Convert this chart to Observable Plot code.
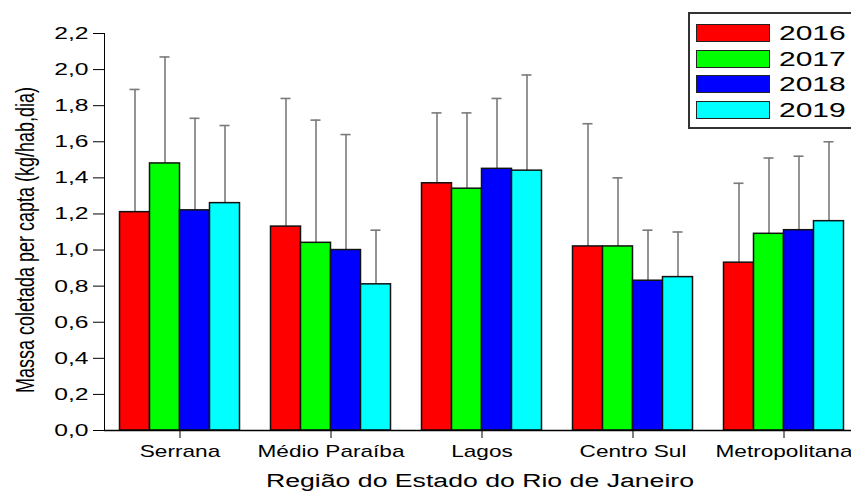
<!DOCTYPE html>
<html>
<head>
<meta charset="utf-8">
<script src="https://cdn.jsdelivr.net/npm/d3@7"></script>
<script src="https://cdn.jsdelivr.net/npm/@observablehq/plot@0.6"></script>
<style>
  html, body { margin: 0; padding: 0; background: #fff; overflow: hidden; }
  #wrap { position: relative; width: 851px; height: 492px; overflow: hidden; font-family: "Liberation Sans", Arial, sans-serif; }
  #wrap svg { position: absolute; left: 0; top: 0; overflow: hidden; }
  .ttl { position: absolute; white-space: nowrap; color: #000; font-size: 18px; }
  #legend { position: absolute; left: 688px; top: 12px; width: 190px; height: 117px; border: 2px solid #333; background: #fff; box-sizing: border-box; }
  .sw { position: absolute; left: 6px; width: 74px; height: 18px; border: 1.5px solid #222; box-sizing: border-box; }
  .lt { position: absolute; left: 89px; font-size: 20px; line-height: 20px; transform-origin: left center; transform: scaleX(1.5); }
</style>
</head>
<body>
<div id="wrap"></div>
<script>
const regions = ["Serrana", "Médio Paraíba", "Lagos", "Centro Sul", "Metropolitana"];
const years = ["2016", "2017", "2018", "2019"];
const colors = ["#ff0000", "#00ff00", "#0000ff", "#00ffff"];
const v2016 = [1.21, 1.13, 1.37, 1.02, 0.93];
const v2017 = [1.48, 1.04, 1.34, 1.02, 1.09];
const v2018 = [1.22, 1.00, 1.45, 0.83, 1.11];
const v2019 = [1.26, 0.81, 1.44, 0.85, 1.16];
const e2016 = [1.89, 1.84, 1.76, 1.70, 1.37];
const e2017 = [2.07, 1.72, 1.76, 1.40, 1.51];
const e2018 = [1.73, 1.64, 1.84, 1.11, 1.52];
const e2019 = [1.69, 1.11, 1.97, 1.10, 1.60];
const yTicks = [0, 0.2, 0.4, 0.6, 0.8, 1.0, 1.2, 1.4, 1.6, 1.8, 2.0, 2.2];

const values = [v2016, v2017, v2018, v2019];
const errs = [e2016, e2017, e2018, e2019];
const data = [];
regions.forEach((r, i) => years.forEach((y, j) => data.push({region: r, year: y, value: values[j][i], err: errs[j][i]})));

const fmt = d => d.toFixed(1).replace(".", ",");

const chart = Plot.plot({
  width: 851,
  height: 492,
  marginLeft: 104,
  marginRight: 0,
  marginTop: 33,
  marginBottom: 62,
  style: {fontFamily: "'Liberation Sans', Arial, sans-serif", fontSize: "17px", color: "#000", background: "#fff", overflow: "hidden"},
  fx: {domain: regions, range: [104, 859], padding: 0, round: false, label: null, tickSize: 8, tickPadding: 6},
  x: {domain: years, paddingInner: 0, paddingOuter: 0.5167, round: false, axis: null},
  y: {domain: [0, 2.2], ticks: yTicks, tickFormat: fmt, tickSize: 11, tickPadding: 5, label: null, line: true},
  color: {domain: years, range: colors},
  marks: [
    Plot.ruleX(data, {fx: "region", x: "year", y1: "value", y2: "err", stroke: "#7a7a7a", strokeWidth: 1.6}),
    Plot.tickY(data, {fx: "region", x: "year", y: "err", stroke: "#7a7a7a", strokeWidth: 1.6, insetLeft: 10, insetRight: 10}),
    Plot.barY(data, {fx: "region", x: "year", y: "value", fill: "year", stroke: "#111", strokeWidth: 1.5, insetLeft: 0, insetRight: 0}),
    Plot.ruleY([0], {stroke: "#000", strokeWidth: 1.5})
  ]
});

const wrap = document.getElementById("wrap");
wrap.appendChild(chart);

// emulate the horizontally stretched lettering of the reference
chart.querySelectorAll("text").forEach(t => {
  const s = t.textContent.trim();
  if (!s) return;
  const f = /^\d,\d$/.test(s) ? 1.45 : 1.33;
  const L = t.getComputedTextLength();
  t.setAttribute("textLength", L * f);
  t.setAttribute("lengthAdjust", "spacingAndGlyphs");
});

// axis titles
const xt = document.createElement("div");
xt.className = "ttl";
xt.textContent = "Região do Estado do Rio de Janeiro";
xt.style.left = "480px";
xt.style.top = "471px";
xt.style.transform = "translateX(-50%) scaleX(1.48)";
wrap.appendChild(xt);

const yt = document.createElement("div");
yt.className = "ttl";
yt.textContent = "Massa coletada per capta (kg/hab,dia)";
yt.style.left = "26px";
yt.style.top = "240px";
yt.style.transform = "translate(-50%, -50%) scaleX(1.4) rotate(-90deg)";
yt.style.lineHeight = "18px";
wrap.appendChild(yt);

// legend
const lg = document.createElement("div");
lg.id = "legend";
const tops = [10, 35.5, 61, 86.5];
years.forEach((y, i) => {
  const sw = document.createElement("div");
  sw.className = "sw";
  sw.style.top = tops[i] + "px";
  sw.style.background = colors[i];
  lg.appendChild(sw);
  const lt = document.createElement("div");
  lt.className = "lt";
  lt.style.top = (tops[i] - 1) + "px";
  lt.textContent = y;
  lg.appendChild(lt);
});
wrap.appendChild(lg);
</script>
</body>
</html>
